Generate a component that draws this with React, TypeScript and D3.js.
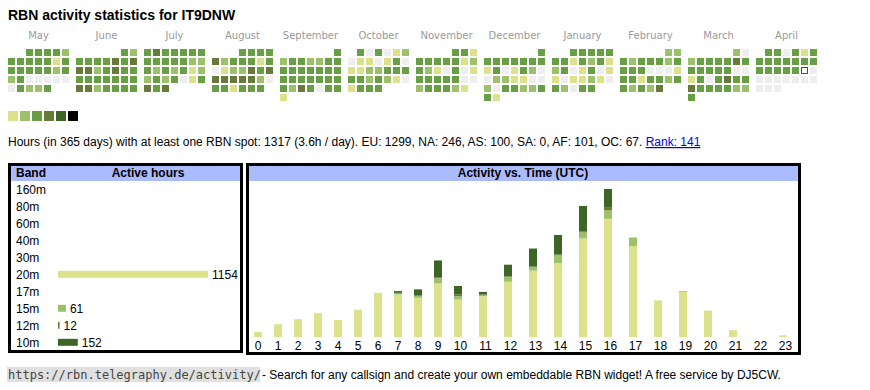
import * as d3 from 'd3';

// calendar (May 2024 .. April 2025), one digit per day: 0 = no spot, 1..6 = activity level
const monthNames = ['May', 'June', 'July', 'August', 'September', 'October', 'November', 'December', 'January', 'February', 'March', 'April'];
const monthYear = [2024, 2024, 2024, 2024, 2024, 2024, 2024, 2024, 2025, 2025, 2025, 2025];
const monthNum = [4, 5, 6, 7, 8, 9, 10, 11, 0, 1, 2, 3];
const dayLevels = [
  '33332' + '3333313' + '3333323' + '2300000' + '03223',
  '32' + '3333434' + '4423433' + '3333333' + '4423333',
  '3433333' + '3333322' + '3232312' + '2323013' + '434',
  '3333' + '4233313' + '0122434' + '4444420' + '331333',
  '3' + '2332233' + '3333333' + '3333333' + '3243033' + '1',
  '303012' + '0110130' + '1122333' + '3323210' + '1333',
  '331' + '3333312' + '3210301' + '3333300' + '233321',
  '3' + '3333333' + '1301320' + '0221100' + '2033223' + '31',
  '33333' + '3313231' + '2301301' + '1011210' + '32033',
  '22' + '3233323' + '3330001' + '3313323' + '32324',
  '20' + '2333343' + '3333300' + '1303433' + '4333322' + '3',
  '330313' + '3333333' + '3333300' + '0000000' + '000',
];
const todayMonth = 11;
const todayDay = 19;
const levelColors = ['#eeeeee', '#dce28b', '#9dc06b', '#689f45', '#687a3a', '#3d6526', '#000000'];
const legendLevels = [1, 2, 3, 4, 5, 6];

// band table
const bands = ['160m', '80m', '60m', '40m', '30m', '20m', '17m', '15m', '12m', '10m'];
const bandHours = [0, 0, 0, 0, 0, 1154, 0, 61, 12, 152];
const bandColors = ['#3d6526', '#687a3a', '#689f45', '#9dc06b', '#dce28b', '#dce28b', '#9dc06b', '#9dc06b', '#687a3a', '#3d6526'];

// activity vs. time (UTC), hours per band
const hourLabels = [0, 1, 2, 3, 4, 5, 6, 7, 8, 9, 10, 11, 12, 13, 14, 15, 16, 17, 18, 19, 20, 21, 22, 23];
const h20 = [6, 15, 21, 28, 20, 32, 52, 50, 46, 63, 44, 48, 65, 78, 87, 116, 139, 107, 43, 53, 31, 8, 0, 2];
const h15 = [0, 0, 0, 0, 0, 0, 0, 1, 2, 6, 4, 1, 6, 4, 9, 7, 10, 10, 0, 1, 0, 0, 0, 0];
const h12 = [0, 0, 0, 0, 0, 0, 0, 1, 1, 1, 2, 1, 0, 1, 1, 1, 3, 0, 0, 0, 0, 0, 0, 0];
const h10 = [0, 0, 0, 0, 0, 0, 0, 2, 7, 20, 10, 3, 14, 21, 23, 30, 22, 0, 0, 0, 0, 0, 0, 0];
const stackKeys = ['20m', '15m', '12m', '10m'];
const stackColors = ['#dce28b', '#9dc06b', '#687a3a', '#3d6526'];

const sans = "'Liberation Sans', Arial, sans-serif";

export default function App() {
  // calendar geometry
  const monthX = d3.scaleLinear().domain([0, 11]).range([8, 756]);
  const colX = d3.scaleLinear().domain([0, 6]).range([0, 54]);
  const rowY = d3.scaleLinear().domain([0, 5]).range([49, 94]);

  const cells: { x: number; y: number; lvl: number; today: boolean; key: string }[] = [];
  dayLevels.forEach((s, mi) => {
    const first = (new Date(monthYear[mi], monthNum[mi], 1).getDay() + 6) % 7;
    s.split('').forEach((ch, di) => {
      const idx = first + di;
      cells.push({
        x: monthX(mi) + colX(idx % 7),
        y: rowY(Math.floor(idx / 7)),
        lvl: +ch,
        today: mi === todayMonth && di + 1 === todayDay,
        key: `${mi}-${di}`,
      });
    });
  });

  // band table
  const bandY = d3.scalePoint<string>().domain(bands).range([189.3, 342.3]);
  const bandX = d3.scaleLinear().domain([0, 1154]).range([0, 150]);

  // hourly chart
  const rows = hourLabels.map((h, i) => ({ hour: h, '20m': h20[i], '15m': h15[i], '12m': h12[i], '10m': h10[i] }));
  const series = d3.stack<any>().keys(stackKeys)(rows);
  const cellW = hourLabels.map((h) => 15 + 5 * String(h).length);
  const lefts = cellW.map((_, i) => 248 + d3.sum(cellW.slice(0, i)));
  const x = d3.scaleOrdinal<number, number>().domain(hourLabels).range(lefts);
  const maxTotal = d3.max(series[series.length - 1], (d) => d[1])!;
  const y = d3.scaleLinear().domain([0, maxTotal]).range([337, 189]);

  return (
    <svg width={870} height={390} style={{ position: 'absolute', left: 0, top: 0, background: '#fff' }}>
      <text x={8} y={20} fontFamily={sans} fontWeight="bold" fontSize={14} fill="#000">
        RBN activity statistics for IT9DNW
      </text>

      {monthNames.map((m, i) => (
        <text key={m} x={monthX(i) + 30.5} y={39} textAnchor="middle" fontFamily="'DejaVu Sans', Verdana, sans-serif" fontSize={10} fill="#999">
          {m}
        </text>
      ))}
      {cells.map((c) =>
        c.today ? (
          <rect key={c.key} x={c.x + 0.5} y={c.y + 0.5} width={6} height={6} fill="#fff" stroke="#f00" strokeWidth={1} />
        ) : (
          <rect key={c.key} x={c.x} y={c.y} width={7} height={7} fill={levelColors[c.lvl]} />
        )
      )}

      {legendLevels.map((l, i) => (
        <rect key={l} x={8 + i * 12} y={111} width={10} height={10} fill={levelColors[l]} />
      ))}

      <text x={8} y={146} fontFamily={sans} fontSize={12} fill="#000">
        Hours (in 365 days) with at least one RBN spot: 1317 (3.6h / day). EU: 1299, NA: 246, AS: 100, SA: 0, AF: 101, OC: 67.{' '}
        <tspan fill="#0000ee" textDecoration="underline">Rank: 141</tspan>
      </text>

      {/* band table */}
      <rect x={9.5} y={164.5} width={232} height={187} fill="#fff" stroke="#000" strokeWidth={3} />
      <rect x={11} y={166} width={229} height={15} fill="#aabbff" />
      <text x={16} y={177} fontFamily={sans} fontWeight="bold" fontSize={12}>Band</text>
      <text x={148} y={177} textAnchor="middle" fontFamily={sans} fontWeight="bold" fontSize={12}>Active hours</text>
      {bands.map((b, i) => (
        <g key={b}>
          <text x={16} y={bandY(b)! + 4.3} fontFamily={sans} fontSize={12}>{b}</text>
          {bandHours[i] > 0 && (
            <>
              <rect x={58} y={bandY(b)! - 3.5} width={bandX(bandHours[i])} height={7} fill={bandColors[i]} />
              <text x={58 + bandX(bandHours[i]) + 4} y={bandY(b)! + 4.3} fontFamily={sans} fontSize={12}>{bandHours[i]}</text>
            </>
          )}
        </g>
      ))}

      {/* activity vs time */}
      <rect x={247.5} y={164.5} width={552} height={189} fill="#fff" stroke="#000" strokeWidth={3} />
      <rect x={249} y={166} width={549} height={15} fill="#aabbff" />
      <text x={523} y={177} textAnchor="middle" fontFamily={sans} fontWeight="bold" fontSize={12}>Activity vs. Time (UTC)</text>
      {series.map((s, si) => (
        <g key={s.key} fill={stackColors[si]}>
          {s.map((d) => (
            <rect key={d.data.hour} x={x(d.data.hour) + 6} y={y(d[1])} width={8} height={y(d[0]) - y(d[1])} />
          ))}
        </g>
      ))}
      {hourLabels.map((h, i) => (
        <text key={h} x={x(h) + cellW[i] / 2} y={350} textAnchor="middle" fontFamily={sans} fontSize={12}>{h}</text>
      ))}

      {/* footer */}
      <rect x={7} y={367} width={253} height={15} fill="#e0e0e0" />
      <text x={8} y={379} fontFamily="'DejaVu Sans Mono', monospace" fontSize={12} fill="#444">https://rbn.telegraphy.de/activity/</text>
      <text x={262} y={379} fontFamily={sans} fontSize={12} fill="#000">
        - Search for any callsign and create your own embeddable RBN widget! A free service by DJ5CW.
      </text>
    </svg>
  );
}
